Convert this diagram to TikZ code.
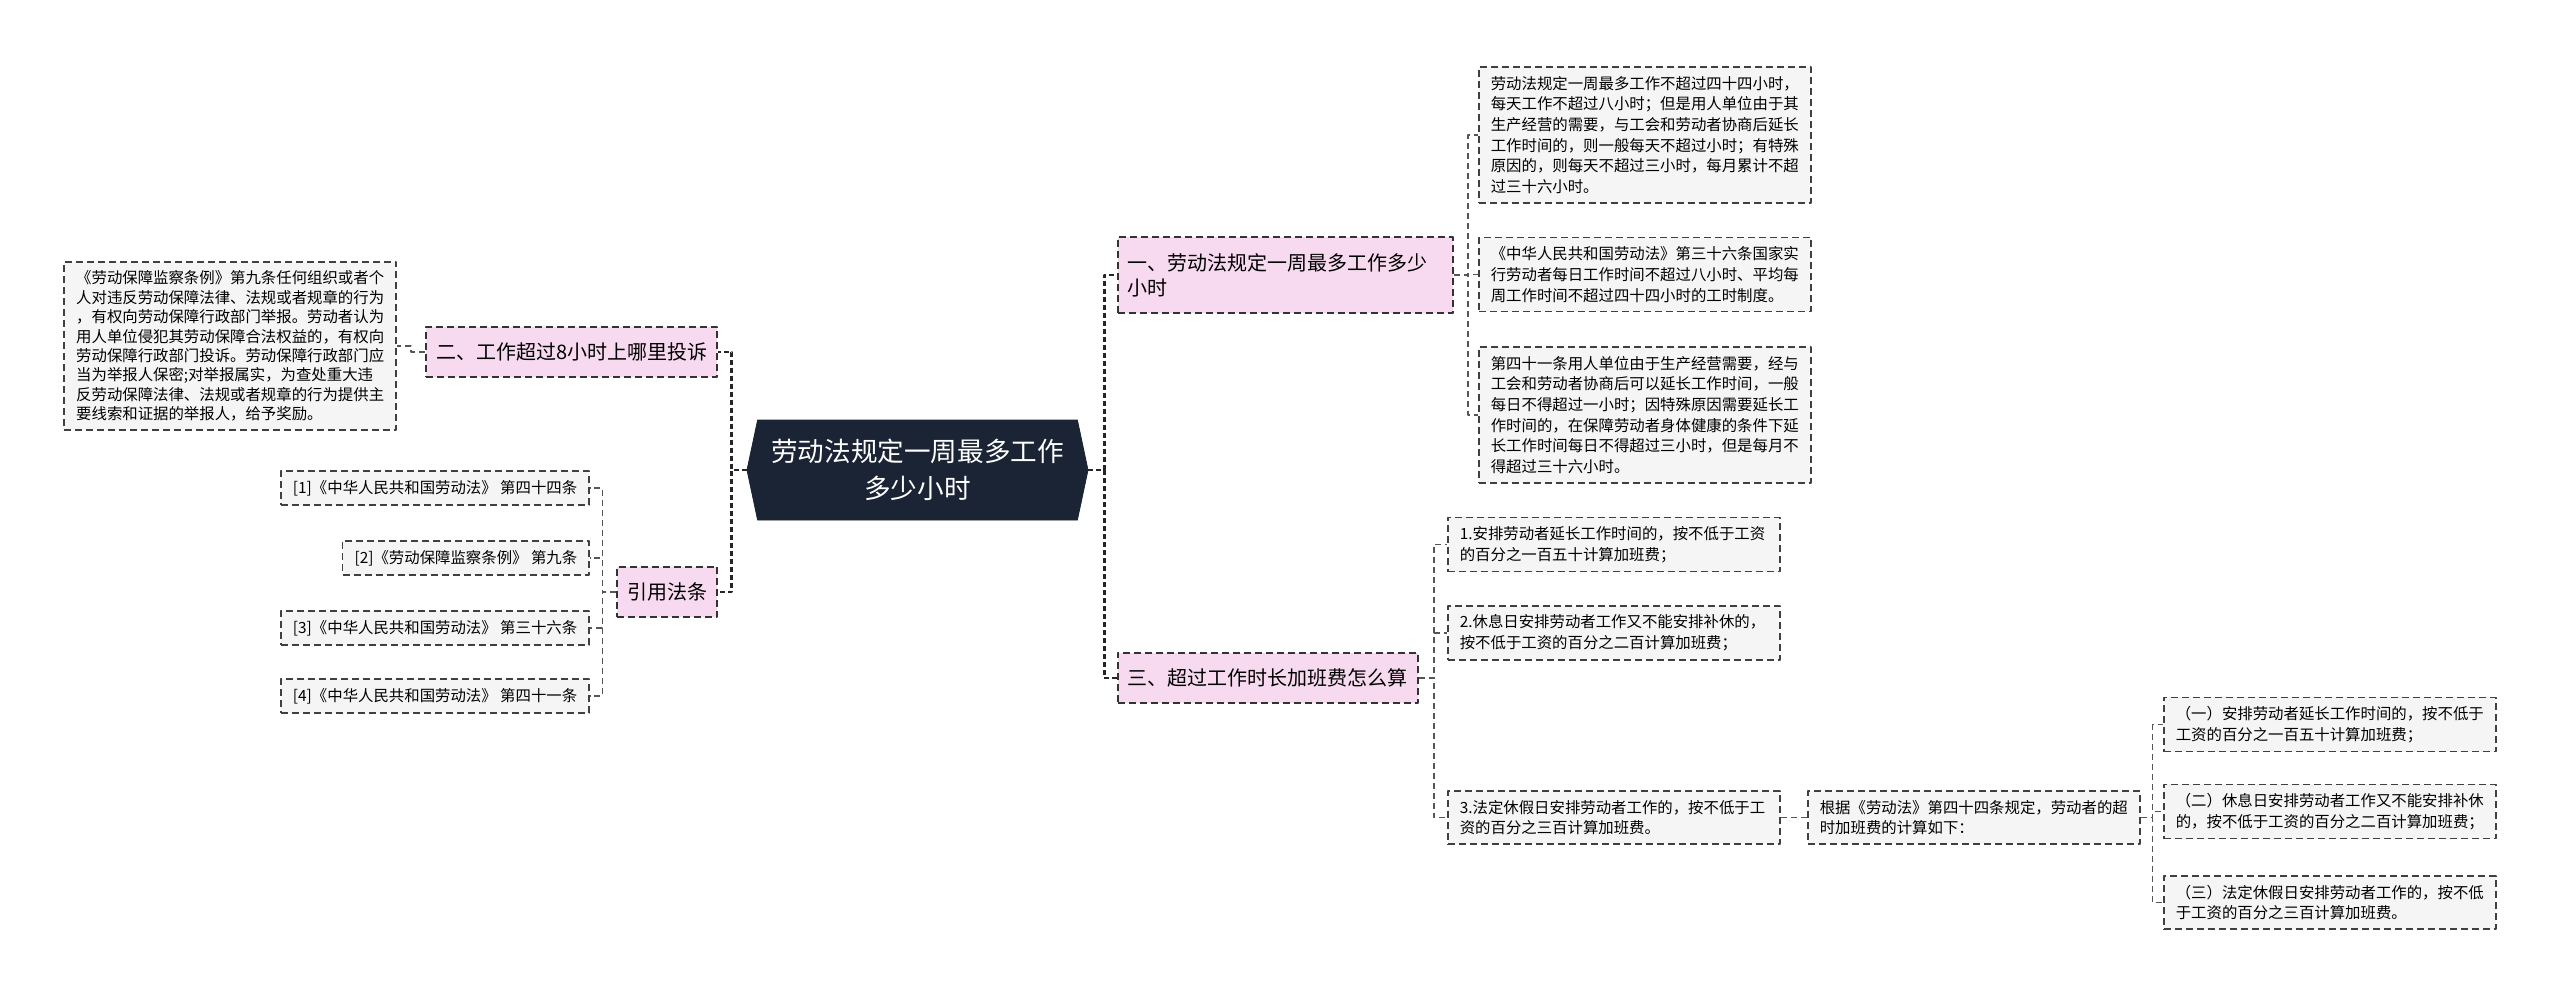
\documentclass[tikz,border=0pt]{standalone}
\usepackage{fontspec}
\setmainfont{Noto Sans CJK SC}
\usetikzlibrary{shapes.symbols}
\definecolor{rootfill}{HTML}{1A2434}
\definecolor{branchpink}{HTML}{F7DAEF}
\definecolor{leafgray}{HTML}{F5F5F5}
\definecolor{linkgray}{HTML}{555555}
\begin{document}
\begin{tikzpicture}[x=0.5pt, y=-0.5pt, line join=round,
	rootnode/.style={signal, signal to=east and west, signal pointer angle=156, fill=rootfill, draw=rootfill, text=white, align=center, font=\fontsize{13.3pt}{18.3pt}\selectfont, minimum width=170.5pt, minimum height=50pt, inner sep=0pt},
	branch/.style={draw=black!80, fill=branchpink, dash pattern=on 3.5pt off 2pt, line width=0.9pt, font=\fontsize{10pt}{12.5pt}\selectfont, align=left, inner xsep=5pt, inner ysep=8pt},
	leaf/.style={draw=black!75, fill=leafgray, dash pattern=on 3.5pt off 2pt, line width=0.8pt, font=\fontsize{7.7pt}{10.35pt}\selectfont, align=left, inner xsep=6pt, inner ysep=4.5pt},
	wideleaf/.style={leaf, text width=154pt},
	mainlink/.style={draw=black!85, line width=1.4pt, dash pattern=on 2.5pt off 1.5pt},
	leaflink/.style={draw=linkgray, line width=0.7pt, dash pattern=on 3pt off 2pt}]
			\useasboundingbox (0,0) rectangle (2560,998);
			\node[rootnode] (root) at (917.5,470) {劳动法规定一周最多工作\\多少小时};
			\node[branch, anchor=west, text width=157.5pt] (b1) at (1117,275) {一、劳动法规定一周最多工作多少\\小时};
			\node[branch, anchor=west] (b3) at (1117,678) {三、超过工作时长加班费怎么算};
			\node[branch, anchor=east] (b2) at (718,352) {二、工作超过8小时上哪里投诉};
			\node[branch, anchor=east] (cite) at (718,592) {引用法条};
			\node[wideleaf, anchor=west] (a1) at (1478,135) {劳动法规定一周最多工作不超过四十四小时，\\每天工作不超过八小时；但是用人单位由于其\\生产经营的需要，与工会和劳动者协商后延长\\工作时间的，则一般每天不超过小时；有特殊\\原因的，则每天不超过三小时，每月累计不超\\过三十六小时。};
			\node[wideleaf, anchor=west] (a2) at (1478,274.5) {《中华人民共和国劳动法》第三十六条国家实\\行劳动者每日工作时间不超过八小时、平均每\\周工作时间不超过四十四小时的工时制度。};
			\node[wideleaf, anchor=west] (a3) at (1478,415) {第四十一条用人单位由于生产经营需要，经与\\工会和劳动者协商后可以延长工作时间，一般\\每日不得超过一小时；因特殊原因需要延长工\\作时间的，在保障劳动者身体健康的条件下延\\长工作时间每日不得超过三小时，但是每月不\\得超过三十六小时。};
			\node[wideleaf, anchor=west] (c1) at (1447,544.5) {1.安排劳动者延长工作时间的，按不低于工资\\的百分之一百五十计算加班费；};
			\node[wideleaf, anchor=west] (c2) at (1447,633) {2.休息日安排劳动者工作又不能安排补休的，\\按不低于工资的百分之二百计算加班费；};
			\node[wideleaf, anchor=west] (c3) at (1447,817.5) {3.法定休假日安排劳动者工作的，按不低于工\\资的百分之三百计算加班费。};
			\node[wideleaf, anchor=west] (c3x) at (1807,817.5) {根据《劳动法》第四十四条规定，劳动者的超\\时加班费的计算如下：};
			\node[wideleaf, anchor=west] (d1) at (2163,724.5) {（一）安排劳动者延长工作时间的，按不低于\\工资的百分之一百五十计算加班费；};
			\node[wideleaf, anchor=west] (d2) at (2163,811.5) {（二）休息日安排劳动者工作又不能安排补休\\的，按不低于工资的百分之二百计算加班费；};
			\node[wideleaf, anchor=west] (d3) at (2163,902.5) {（三）法定休假日安排劳动者工作的，按不低\\于工资的百分之三百计算加班费。};
			\node[wideleaf, anchor=east, font=\fontsize{7.7pt}{9.7pt}\selectfont] (law9) at (397,346) {《劳动保障监察条例》第九条任何组织或者个\\人对违反劳动保障法律、法规或者规章的行为\\，有权向劳动保障行政部门举报。劳动者认为\\用人单位侵犯其劳动保障合法权益的，有权向\\劳动保障行政部门投诉。劳动保障行政部门应\\当为举报人保密;对举报属实，为查处重大违\\反劳动保障法律、法规或者规章的行为提供主\\要线索和证据的举报人，给予奖励。};
			\node[leaf, anchor=east] (r1) at (590,488) {[1]《中华人民共和国劳动法》 第四十四条};
			\node[leaf, anchor=east] (r2) at (590,558) {[2]《劳动保障监察条例》 第九条};
			\node[leaf, anchor=east] (r3) at (590,628) {[3]《中华人民共和国劳动法》 第三十六条};
			\node[leaf, anchor=east] (r4) at (590,696) {[4]《中华人民共和国劳动法》 第四十一条};
			\draw[mainlink] (root.east) -- ++(16,0) |- (b1.west);
			\draw[mainlink] (root.east) -- ++(16,0) |- (b3.west);
			\draw[mainlink] (root.west) -- ++(-15,0) |- (b2.east);
			\draw[mainlink] (root.west) -- ++(-15,0) |- (cite.east);
			\foreach \n in {a1,a2,a3}
				\draw[leaflink] (b1.east) -- ++(14,0) |- (\n.west);
			\foreach \n in {c1,c2,c3}
				\draw[leaflink] (b3.east) -- ++(15,0) |- (\n.west);
			\draw[leaflink] (c3.east) -- ++(14,0) |- (c3x.west);
			\foreach \n in {d1,d2,d3}
				\draw[leaflink] (c3x.east) -- ++(12,0) |- (\n.west);
			\draw[leaflink] (b2.west) -- ++(-14,0) |- (law9.east);
			\foreach \n in {r1,r2,r3,r4}
				\draw[leaflink] (cite.west) -- ++(-14,0) |- (\n.east);
		\end{tikzpicture}
\end{document}
